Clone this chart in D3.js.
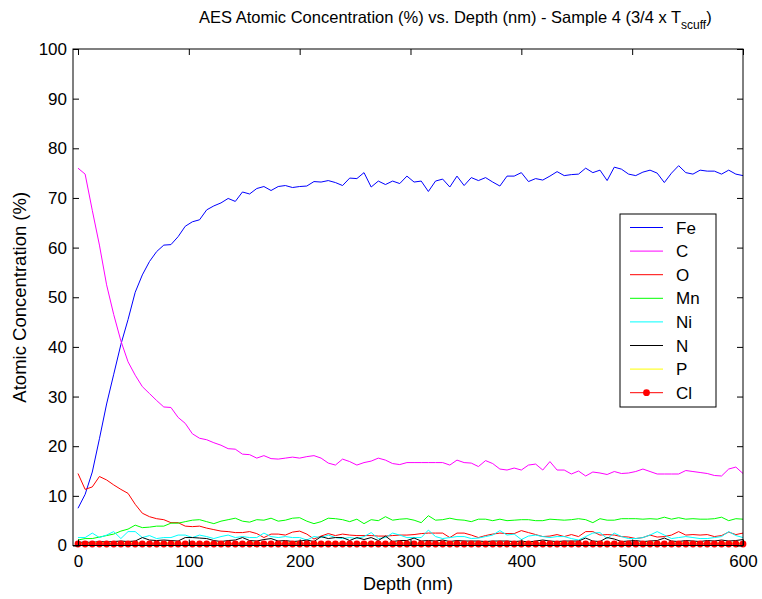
<!DOCTYPE html>
<html>
<head>
<meta charset="utf-8">
<script src="https://cdn.jsdelivr.net/npm/d3@7"></script>
<style>
  body { margin: 0; background: #fff; }
  svg { display: block; font-family: "Liberation Sans", Arial, sans-serif; }
</style>
</head>
<body>
<svg id="chart" width="762" height="599"></svg>
<script>
// depth (nm) of each AES sputter step
var depth = [
  0, 6.45, 12.9, 19.35, 25.81, 32.26, 38.71, 45.16, 51.61, 58.06,
  64.52, 70.97, 77.42, 83.87, 90.32, 96.77, 103.23, 109.68, 116.13, 122.58,
  129.03, 135.48, 141.94, 148.39, 154.84, 161.29, 167.74, 174.19, 180.65, 187.1,
  193.55, 200, 206.45, 212.9, 219.35, 225.81, 232.26, 238.71, 245.16, 251.61,
  258.06, 264.52, 270.97, 277.42, 283.87, 290.32, 296.77, 303.23, 309.68, 316.13,
  322.58, 329.03, 335.48, 341.94, 348.39, 354.84, 361.29, 367.74, 374.19, 380.65,
  387.1, 393.55, 400, 406.45, 412.9, 419.35, 425.81, 432.26, 438.71, 445.16,
  451.61, 458.06, 464.52, 470.97, 477.42, 483.87, 490.32, 496.77, 503.23, 509.68,
  516.13, 522.58, 529.03, 535.48, 541.94, 548.39, 554.84, 561.29, 567.74, 574.19,
  580.65, 587.1, 593.55, 600
];

var fe = [
  7.5, 10.3, 14.8, 21.5, 28.5, 34.5, 40.5, 45.5, 51.0, 54.5,
  57.2, 59.2, 60.5, 60.6, 62.2, 64.3, 65.2, 65.6, 67.6, 68.4,
  69.0, 69.9, 69.3, 71.2, 70.8, 71.9, 72.3, 71.5, 72.3, 72.5,
  72.1, 72.3, 72.4, 73.3, 73.2, 73.5, 73.1, 72.5, 74.0, 73.9,
  75.1, 72.2, 73.4, 72.7, 73.4, 72.9, 74.4, 73.2, 73.4, 71.3,
  73.4, 73.8, 72.2, 74.4, 72.5, 74.1, 73.5, 74.1, 73.2, 72.4,
  74.4, 74.4, 75.1, 73.3, 73.9, 73.6, 74.4, 75.3, 74.5, 74.7,
  74.8, 76.0, 75.1, 75.6, 73.5, 76.2, 75.8, 74.8, 74.5, 75.2,
  75.6, 75.0, 73.1, 75.0, 76.5, 75.1, 74.8, 75.6, 75.4, 75.4,
  74.8, 75.6, 74.8, 74.5
];

var c = [
  76.0, 74.8, 67.5, 60.5, 52.5, 46.5, 41.2, 37.0, 34.3, 32.0,
  30.6, 29.2, 27.9, 27.8, 25.8, 24.6, 22.5, 21.6, 21.3, 20.7,
  20.2, 19.5, 19.4, 18.4, 18.3, 17.6, 18.1, 17.5, 17.4, 17.6,
  17.8, 17.6, 17.9, 18.1, 17.6, 16.6, 16.2, 17.4, 16.9, 16.2,
  16.7, 17.0, 17.6, 17.2, 16.5, 16.3, 16.7, 16.7, 16.7, 16.7,
  16.7, 16.7, 16.2, 17.2, 16.7, 16.6, 15.9, 17.1, 16.5, 15.4,
  15.2, 15.6, 15.2, 16.2, 16.4, 15.2, 16.9, 15.2, 15.2, 14.4,
  15.0, 14.0, 14.8, 14.6, 14.3, 14.9, 14.5, 14.6, 14.9, 15.4,
  14.9, 14.4, 14.4, 14.4, 14.4, 15.1, 14.9, 14.7, 14.5, 14.1,
  14.0, 15.4, 15.8, 14.5
];

var o = [
  14.5, 11.3, 11.8, 13.9, 13.2, 12.2, 11.3, 10.5, 8.3, 6.5,
  5.8, 5.4, 5.2, 4.6, 4.6, 3.9, 3.8, 3.9, 3.5, 3.2,
  2.9, 2.8, 2.6, 2.6, 2.8, 2.4, 1.6, 2.3, 2.3, 2.1,
  2.7, 2.9, 2.3, 1.3, 1.9, 2.4, 2.0, 2.3, 2.1, 2.0,
  2.0, 2.0, 1.9, 1.9, 2.0, 2.1, 2.1, 2.2, 2.4, 2.5,
  2.5, 2.5, 1.6, 2.5, 2.5, 2.1, 1.6, 2.0, 2.3, 2.5,
  2.4, 2.4, 3.0, 2.6, 2.2, 1.8, 1.9, 2.2, 1.8, 2.2,
  1.8, 2.8, 2.8, 2.1, 2.2, 2.1, 1.8, 1.7, 1.4, 1.6,
  2.1, 1.7, 1.8, 2.1, 2.8, 2.1, 2.2, 2.1, 2.2, 1.8,
  2.0, 2.7, 2.2, 2.5
];

var mn = [
  1.1, 1.4, 1.4, 1.7, 2.0, 2.3, 2.9, 3.3, 4.1, 3.6,
  3.7, 3.9, 3.9, 4.5, 4.5, 4.8, 5.1, 5.2, 4.8, 4.4,
  4.9, 5.2, 5.5, 4.9, 4.7, 5.2, 5.1, 5.5, 4.9, 5.1,
  5.5, 5.6, 4.9, 4.4, 4.8, 5.5, 5.4, 5.2, 4.8, 5.3,
  4.4, 5.2, 5.0, 5.8, 5.1, 5.3, 5.4, 5.1, 4.6, 6.0,
  5.1, 5.2, 5.5, 5.2, 5.1, 4.8, 5.3, 5.3, 5.0, 5.3,
  5.0, 5.1, 5.2, 5.2, 5.0, 5.0, 5.3, 5.2, 5.1, 5.2,
  5.4, 5.2, 4.6, 5.4, 5.1, 5.1, 5.4, 5.4, 5.4, 5.3,
  5.4, 5.3, 5.7, 5.3, 5.6, 5.3, 5.4, 5.3, 5.3, 5.4,
  5.7, 5.0, 5.4, 5.3
];

var ni = [
  1.6, 1.6, 2.5, 1.6, 2.1, 2.8, 1.4, 2.8, 2.8, 1.6,
  2.0, 1.4, 1.6, 1.6, 2.1, 2.1, 1.6, 2.1, 1.8, 1.4,
  1.8, 2.1, 1.6, 1.8, 1.6, 1.6, 2.5, 1.8, 1.6, 1.8,
  1.6, 1.6, 1.1, 1.8, 1.6, 2.1, 1.6, 1.4, 1.6, 1.4,
  1.8, 2.6, 1.4, 1.6, 2.5, 2.1, 1.6, 1.6, 1.6, 3.1,
  1.8, 1.4, 1.6, 1.8, 1.8, 1.4, 1.5, 1.8, 2.1, 3.0,
  2.1, 2.3, 1.2, 1.9, 2.1, 1.8, 1.6, 1.8, 1.8, 1.4,
  1.1, 1.8, 2.5, 2.6, 1.4, 2.5, 1.8, 1.4, 1.4, 1.6,
  2.1, 2.8, 2.1, 1.4, 1.6, 1.8, 1.6, 1.4, 1.4, 1.6,
  1.8, 2.8, 2.0, 1.6
];

var n = [
  0.6, 0.7, 0.6, 0.8, 0.7, 0.8, 0.9, 0.8, 0.9, 1.6,
  1.1, 1.0, 1.1, 1.0, 0.9, 1.6, 1.6, 1.5, 1.4, 1.0,
  0.8, 1.0, 1.1, 1.6, 1.0, 0.9, 1.2, 1.4, 0.9, 1.0,
  0.8, 0.9, 1.1, 0.8, 1.8, 1.4, 1.6, 1.6, 1.0, 1.6,
  1.2, 1.6, 1.0, 1.9, 0.8, 1.0, 1.0, 1.5, 0.9, 1.0,
  0.9, 1.1, 0.8, 1.0, 0.9, 0.9, 0.9, 0.8, 0.9, 0.9,
  0.9, 0.8, 0.9, 0.7, 0.9, 1.1, 0.9, 0.8, 0.9, 0.9,
  0.9, 1.5, 0.9, 0.8, 1.6, 1.3, 0.8, 0.9, 1.0, 0.8,
  0.9, 1.0, 1.5, 0.9, 0.8, 1.0, 0.9, 0.8, 1.0, 0.9,
  1.1, 0.9, 1.0, 1.2
];

var p = [
  0.5, 0.4, 0.5, 0.6, 0.5, 0.4, 0.5, 0.5, 0.6, 0.5,
  0.4, 0.5, 0.5, 0.6, 0.5, 0.5, 0.4, 0.5, 0.6, 0.5,
  0.5, 0.4, 0.5, 0.5, 0.6, 0.5, 0.5, 0.4, 0.5, 0.5,
  0.6, 0.5, 0.4, 0.5, 0.5, 0.6, 0.5, 0.5, 0.4, 0.5,
  0.5, 0.6, 0.5, 0.4, 0.5, 0.5, 0.6, 0.5, 0.5, 0.4,
  0.5, 0.5, 0.6, 0.5, 0.4, 0.5, 0.5, 0.6, 0.5, 0.5,
  0.4, 0.5, 0.5, 0.6, 0.5, 0.4, 0.5, 0.5, 0.6, 0.5,
  0.5, 0.4, 0.5, 0.5, 0.6, 0.5, 0.5, 0.4, 0.5, 0.5,
  0.6, 0.5, 0.4, 0.5, 0.5, 0.6, 0.5, 0.5, 0.4, 0.5,
  0.5, 0.6, 0.5, 0.5
];

var cl = [
  0.3, 0.3, 0.3, 0.3, 0.3, 0.3, 0.3, 0.3, 0.3, 0.3,
  0.3, 0.3, 0.3, 0.3, 0.3, 0.3, 0.3, 0.3, 0.3, 0.3,
  0.3, 0.3, 0.3, 0.3, 0.3, 0.3, 0.3, 0.3, 0.3, 0.3,
  0.3, 0.3, 0.3, 0.3, 0.3, 0.3, 0.3, 0.3, 0.3, 0.3,
  0.3, 0.3, 0.3, 0.3, 0.3, 0.3, 0.3, 0.3, 0.3, 0.3,
  0.3, 0.3, 0.3, 0.3, 0.3, 0.3, 0.3, 0.3, 0.3, 0.3,
  0.3, 0.3, 0.3, 0.3, 0.3, 0.3, 0.3, 0.3, 0.3, 0.3,
  0.3, 0.3, 0.3, 0.3, 0.3, 0.3, 0.3, 0.3, 0.3, 0.3,
  0.3, 0.3, 0.3, 0.3, 0.3, 0.3, 0.3, 0.3, 0.3, 0.3,
  0.3, 0.3, 0.3, 0.3
];

var elements = ["Fe", "C", "O", "Mn", "Ni", "N", "P", "Cl"];
var colors = ["#0000ff", "#ff00ff", "#ff0000", "#00ff00", "#00ffff", "#000000", "#ffff00", "#ff0000"];
var seriesValues = [fe, c, o, mn, ni, n, p, cl];
var xTicks = [0, 100, 200, 300, 400, 500, 600];
var yTicks = [0, 10, 20, 30, 40, 50, 60, 70, 80, 90, 100];

var svg = d3.select("#chart");
// plot box in pixels (note: "top" is reserved on window, so use ax*)
var axLeft = 73, axRight = 743, axTop = 49, axBottom = 545.5;

var xScale = d3.scaleLinear().domain([-4.5, 600]).range([axLeft, axRight]);
var yScale = d3.scaleLinear().domain([0, 100]).range([axBottom, axTop]);

function styleAxis(g) {
  g.select(".domain").remove();
  g.selectAll("line").attr("stroke", "#000");
  g.selectAll("text").attr("font-size", "17px").attr("fill", "#000")
    .attr("font-family", "Liberation Sans, Arial, sans-serif");
}

// lines
var line = d3.line()
  .x(function (d, i) { return xScale(depth[i]); })
  .y(function (d) { return yScale(d); });

var plot = svg.append("g");
seriesValues.forEach(function (vals, k) {
  plot.append("path")
    .datum(vals)
    .attr("fill", "none")
    .attr("stroke", colors[k])
    .attr("stroke-width", 1)
    .attr("d", line);
});

// Cl has dot markers
plot.selectAll(".cl-dot")
  .data(cl)
  .enter().append("circle")
  .attr("class", "cl-dot")
  .attr("cx", function (d, i) { return xScale(depth[i]); })
  .attr("cy", function (d) { return yScale(d); })
  .attr("r", 3.4)
  .attr("fill", "#ff0000");

// axes box with inward ticks on all four sides (matlab look)
svg.append("rect")
  .attr("x", axLeft).attr("y", axTop)
  .attr("width", axRight - axLeft).attr("height", axBottom - axTop)
  .attr("fill", "none").attr("stroke", "#000").attr("stroke-width", 1);

svg.append("g").attr("transform", "translate(0," + axBottom + ")")
  .call(d3.axisBottom(xScale).tickValues(xTicks).tickSize(-6).tickPadding(9).tickFormat(d3.format("d")))
  .call(styleAxis);
svg.append("g").attr("transform", "translate(0," + axTop + ")")
  .call(d3.axisTop(xScale).tickValues(xTicks).tickSize(-6).tickFormat(""))
  .call(styleAxis);
svg.append("g").attr("transform", "translate(" + axLeft + ",0)")
  .call(d3.axisLeft(yScale).tickValues(yTicks).tickSize(-6).tickPadding(6).tickFormat(d3.format("d")))
  .call(styleAxis);
svg.append("g").attr("transform", "translate(" + axRight + ",0)")
  .call(d3.axisRight(yScale).tickValues(yTicks).tickSize(-6).tickFormat(""))
  .call(styleAxis);

// title with subscript
var title = svg.append("text")
  .attr("x", 199).attr("y", 23)
  .attr("font-size", "16.5px")
  .attr("fill", "#000");
title.append("tspan").text("AES Atomic Concentration (%) vs. Depth (nm) - Sample 4 (3/4 x T");
title.append("tspan").attr("font-size", "12px").attr("dy", 6).text("scuff");
title.append("tspan").attr("dy", -6).text(")");

svg.append("text")
  .attr("x", (axLeft + axRight) / 2).attr("y", 590)
  .attr("text-anchor", "middle")
  .attr("font-size", "18px")
  .text("Depth (nm)");

svg.append("text")
  .attr("transform", "translate(26," + (axTop + axBottom) / 2 + ") rotate(-90)")
  .attr("text-anchor", "middle")
  .attr("font-size", "18.5px")
  .text("Atomic Concentration (%)");

// legend
var legend = svg.append("g");
legend.append("rect")
  .attr("x", 620).attr("y", 214)
  .attr("width", 96).attr("height", 193)
  .attr("fill", "#fff").attr("stroke", "#000").attr("stroke-width", 1);

elements.forEach(function (name, i) {
  var rowY = 227.5 + i * 23.6;
  legend.append("line")
    .attr("x1", 630).attr("x2", 663)
    .attr("y1", rowY).attr("y2", rowY)
    .attr("stroke", colors[i])
    .attr("stroke-width", 1);
  legend.append("text")
    .attr("x", 676).attr("y", rowY + 6)
    .attr("font-size", "17px")
    .text(name);
  if (name === "Cl") {
    legend.append("circle")
      .attr("cx", 646.5).attr("cy", rowY).attr("r", 3.4).attr("fill", "#ff0000");
  }
});
</script>
</body>
</html>
